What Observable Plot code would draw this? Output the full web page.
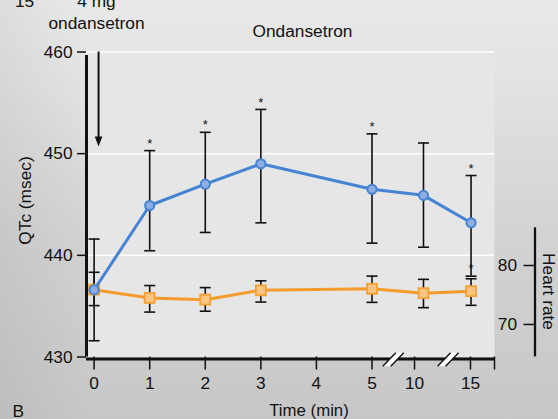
<!DOCTYPE html>
<html><head><meta charset="utf-8">
<script src="https://cdn.jsdelivr.net/npm/d3@7"></script>
<script src="https://cdn.jsdelivr.net/npm/@observablehq/plot@0.6"></script>
<style>
html,body{margin:0;padding:0;background:#d8d8d8;}
#chart{width:558px;height:419px;}
</style></head><body><div id="chart"></div>
<script>
// ---- data ----
const times   = [0, 1, 2, 3, 5, 10.8, 15.05];           // minutes (as drawn on the broken axis)
const qtcMean = [436.6, 444.9, 447.0, 449.0, 446.5, 445.9, 443.2];
const qtcLow  = [431.6, 440.45, 442.25, 443.2, 441.2, 440.8, 437.95];
const qtcHigh = [441.6, 450.3, 452.1, 454.35, 451.95, 451.05, 447.85];
const qtcStar = [false, true, true, true, true, false, true];
const hrMean  = [75.9, 74.5, 74.2, 75.8, 76.05, 75.3, 75.65];
const hrLow   = [73.2, 72.1, 72.25, 73.8, 73.75, 72.85, 73.25];
const hrHigh  = [78.85, 76.6, 76.25, 77.4, 78.2, 77.65, 77.75];
const hrStar  = [false, false, false, false, false, false, true];

const xTicks = [0, 1, 2, 3, 4, 5, 10, 15];
const yTicks = [430, 440, 450, 460];
const gridValues = [440, 450, 460];
const hrTicks = [70, 80];
const hrAxisExtent = [64.5, 86.4];
const axisBreaks = [7.5, 13];
const doseTime = 0.08;
const arrowTip = 450.7;

const title = "Ondansetron";
const doseLabel = "4 mg\nondansetron";
const cornerLabel = "15";
const panelLabel = "B";
const xLabel = "Time (min)";
const yLabel = "QTc (msec)";
const hrLabel = "Heart rate";

// ---- broken time axis: minutes -> axis position ----
const tpos = d3.scaleLinear().domain([0, 5, 10, 15]).range([0, 5, 5.765, 6.772]);
const xDomain = [-0.137, 7.204];
// heart-rate axis expressed on the QTc scale
const hrToQtc = d3.scaleLinear().domain([70, 80]).range([433.2, 439.0]);

const qtc = times.map((t, i) => ({x: tpos(t), mean: qtcMean[i], lo: qtcLow[i], hi: qtcHigh[i], star: qtcStar[i]}));
const hr = times.map((t, i) => ({x: tpos(t), mean: hrToQtc(hrMean[i]), lo: hrToQtc(hrLow[i]), hi: hrToQtc(hrHigh[i]), star: hrStar[i]}));
const tickPos = xTicks.map(t => ({x: tpos(t), label: String(t)}));

const BLUE = "#4583d3", BLUE_FILL = "#8eaee3";
const ORANGE = "#f79b2d", ORANGE_FILL = "#fcc482", ORANGE_EDGE = "#f5a033";
const INK = "#111";
const FS = 17.3;

const capSymbol = {draw(ctx) { ctx.moveTo(-5.5, 0); ctx.lineTo(5.5, 0); }};
const breakFill = {draw(ctx) { ctx.moveTo(-10.5, 6.8); ctx.lineTo(-2.5, 6.8); ctx.lineTo(10.5, -6.8); ctx.lineTo(2.5, -6.8); ctx.closePath(); }};
const breakEdges = {draw(ctx) { ctx.moveTo(-10.5, 6.8); ctx.lineTo(2.5, -6.8); ctx.moveTo(-2.5, 6.8); ctx.lineTo(10.5, -6.8); }};
const arrowHead = {draw(ctx) { ctx.moveTo(0, 0); ctx.lineTo(-3.8, -10); ctx.lineTo(3.8, -10); ctx.closePath(); }};

const chart = Plot.plot({
  width: 558,
  height: 419,
  marginLeft: 86,
  marginRight: 64,
  marginTop: 51.5,
  marginBottom: 62.5,
  style: {
    fontFamily: "'Liberation Sans', Arial, Helvetica, sans-serif",
    fontSize: FS + "px",
    color: INK,
    background: "linear-gradient(to right, rgba(0,0,0,0.05), rgba(0,0,0,0) 16%), linear-gradient(to bottom, #e9e9e9 0%, #e3e3e3 18%, #d3d3d3 55%, #c7c7c7 100%)"
  },
  x: {domain: xDomain},
  y: {domain: [430, 460], range: [356.5, 51.5]},
  marks: [
    Plot.frame({fill: "#e6e6e6", stroke: "none"}),
    Plot.ruleY(gridValues, {stroke: "#fff", strokeWidth: 1.5}),

    // axes
    Plot.axisY(yTicks, {anchor: "left", tickSize: 9, tickPadding: 5, strokeWidth: 1.5, label: null, fontSize: FS, fill: INK, stroke: INK}),
    Plot.axisX([...tickPos, {x: xDomain[1], label: ""}], {x: "x", anchor: "bottom", tickSize: 13, tickPadding: 7, strokeWidth: 1.5, label: null, fontSize: FS, fill: INK, stroke: INK,
      tickFormat: d => d.label}),
    Plot.ruleX([xDomain[0]], {y1: 430, y2: 460, strokeWidth: 3, stroke: INK, insetBottom: -3.5}),
    Plot.ruleY([430], {strokeWidth: 3, stroke: INK, dy: 2}),
    Plot.dot(axisBreaks, {x: d => tpos(d), y: 430, dy: 2.5, symbol: breakFill, fill: "#fff", stroke: "none"}),
    Plot.dot(axisBreaks, {x: d => tpos(d), y: 430, dy: 2.5, symbol: breakEdges, fill: "none", stroke: INK, strokeWidth: 1.4}),

    // heart-rate axis
    Plot.ruleX([xDomain[1]], {y1: hrToQtc(hrAxisExtent[0]), y2: hrToQtc(hrAxisExtent[1]), dx: 40.5, strokeWidth: 2.3, stroke: INK}),
    Plot.axisY(hrTicks, {anchor: "left", y: d => hrToQtc(d), dx: 448.5, tickSize: 11, tickPadding: 7, strokeWidth: 1.5, label: null, fontSize: FS, fill: INK, stroke: INK,
      tickFormat: d => String(d)}),

    // dose arrow
    Plot.ruleX([doseTime], {x: d => tpos(d), y1: 460, y2: arrowTip + 0.8, strokeWidth: 2, stroke: INK}),
    Plot.dot([doseTime], {x: d => tpos(d), y: arrowTip, symbol: arrowHead, fill: INK, stroke: "none"}),

    // error bars
    Plot.ruleX(hr, {x: "x", y1: "lo", y2: "hi", stroke: INK, strokeWidth: 1.6}),
    Plot.dot(hr, {x: "x", y: "lo", symbol: capSymbol, fill: "none", stroke: INK, strokeWidth: 1.6}),
    Plot.dot(hr, {x: "x", y: "hi", symbol: capSymbol, fill: "none", stroke: INK, strokeWidth: 1.6}),
    Plot.ruleX(qtc, {x: "x", y1: "lo", y2: "hi", stroke: INK, strokeWidth: 1.6}),
    Plot.dot(qtc, {x: "x", y: "lo", symbol: capSymbol, fill: "none", stroke: INK, strokeWidth: 1.6}),
    Plot.dot(qtc, {x: "x", y: "hi", symbol: capSymbol, fill: "none", stroke: INK, strokeWidth: 1.6}),

    // series
    Plot.line(hr, {x: "x", y: "mean", stroke: ORANGE, strokeWidth: 3}),
    Plot.dot(hr, {x: "x", y: "mean", symbol: "square", r: 5.6, fill: ORANGE_FILL, stroke: ORANGE_EDGE, strokeWidth: 1.8}),
    Plot.line(qtc, {x: "x", y: "mean", stroke: BLUE, strokeWidth: 3}),
    Plot.dot(qtc, {x: "x", y: "mean", r: 4.6, fill: BLUE_FILL, stroke: BLUE, strokeWidth: 2}),

    // significance stars
    Plot.text(qtc.filter(d => d.star), {x: "x", y: "hi", text: () => "*", dy: -7, fontSize: 13, fill: INK}),
    Plot.text(hr.filter(d => d.star), {x: "x", y: "hi", text: () => "*", dy: -9.5, fontSize: 13, fill: INK}),

    // texts
    Plot.text([title], {frameAnchor: "top", text: d => d, dx: 12, dy: -14.8, lineAnchor: "bottom", fontSize: FS, fill: INK}),
    Plot.text([doseLabel], {frameAnchor: "top-left", text: d => d, textAnchor: "middle", dx: 10, dy: -23.5, lineAnchor: "bottom", lineHeight: 1.243, fontSize: FS, fill: INK}),
    Plot.text([cornerLabel], {frameAnchor: "top-left", text: d => d, textAnchor: "middle", dx: -62, dy: -45.5, lineAnchor: "bottom", fontSize: FS, fill: INK}),
    Plot.text([yLabel], {frameAnchor: "left", text: d => d, textAnchor: "middle", dx: -61.5, dy: -4, rotate: -90, fontSize: FS, fill: INK}),
    Plot.text([hrLabel], {frameAnchor: "right", text: d => d, textAnchor: "middle", dx: 54, dy: 87, rotate: 90, fontSize: FS, fill: INK}),
    Plot.text([xLabel], {frameAnchor: "bottom", text: d => d, dx: 18.5, dy: 58.5, lineAnchor: "bottom", fontSize: 16.8, fill: INK}),
    Plot.text([panelLabel], {frameAnchor: "bottom-left", text: d => d, textAnchor: "start", dx: -74, dy: 59.5, lineAnchor: "bottom", fontSize: FS, fill: INK})
  ]
});
document.getElementById("chart").appendChild(chart);
</script>
</body></html>
